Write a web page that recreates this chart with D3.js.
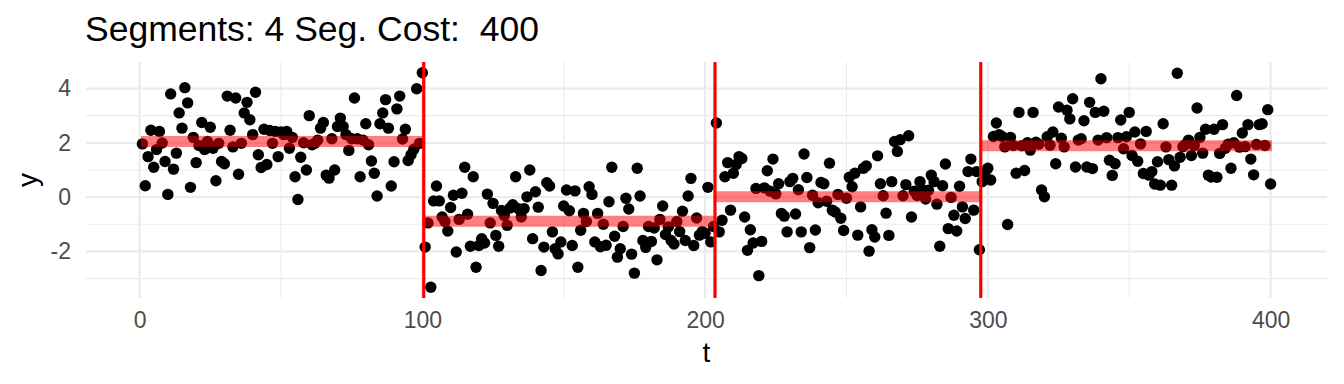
<!DOCTYPE html>
<html>
<head>
<meta charset="utf-8">
<script src="https://cdn.jsdelivr.net/npm/d3@7/dist/d3.min.js"></script>
<style>
  body { margin: 0; background: #fff; }
  text { font-family: "Liberation Sans", Arial, Helvetica, sans-serif; }
</style>
</head>
<body>
<svg id="chart" width="1344" height="384"></svg>
<script>
// DATA (y per time step t = 1..400, split by fitted segment)
const seg1Values = [
  1.96, 0.42, 1.49, 2.46, 1.1, 1.75, 2.42, 1.99, 1.31, 0.1,
  3.8, 1.03, 1.62, 3.1, 2.54, 4.03, 3.47, 0.36, 2.2, 1.27,
  1.9, 2.75, 1.75, 2.05, 2.57, 1.8, 0.6, 1.98, 1.31, 1.23,
  3.72, 2.46, 1.85, 3.65, 0.84, 1.98, 3.1, 3.49, 2.85, 2.3,
  3.86, 1.56, 1.09, 2.5, 1.2, 2.45, 1.98, 2.42, 1.49, 2.4,
  2.3, 2.42, 1.8, 2.2, 0.75, -0.09, 1.47, 2.0, 1.0, 3.0,
  1.93, 1.98, 2.1, 2.54, 2.75, 0.81, 0.7, 2.15, 1.0, 2.6,
  2.91, 2.6, 2.3, 1.72, 2.15, 3.65, 2.15, 0.75, 2.1, 2.7,
  1.93, 1.33, 0.88, 0.04, 2.7, 3.1, 3.59, 2.54, 0.41, 1.3,
  3.25, 3.72, 2.14, 2.5, 1.35, 1.56, 1.76, 3.99, 1.98, 4.58,
];
const seg2Values = [
  -1.84, -0.95, -3.32, -0.14, 0.41, -0.14, -0.73, -0.9, -1.25, -0.38,
  0.07, -2.02, -0.82, 0.14, 1.1, -0.63, -1.81, 0.75, -2.58, -1.78,
  -1.53, -1.69, 0.11, -0.95, -0.23, -1.41, -1.81, -0.49, -0.68, -1.04,
  -0.4, -0.28, 0.75, -0.43, -0.73, -0.43, 0.01, 1.0, -1.53, 0.2,
  -0.37, -2.7, -1.84, 0.53, 0.41, -1.28, -1.9, -2.09, -1.65, -0.33,
  0.26, -0.5, -1.78, 0.23, -2.58, -1.22, -0.6, -0.9, 0.38, 0.1,
  -1.65, -0.6, -1.83, -1.0, -1.77, -0.17, 1.1, -1.44, -2.21, -1.9,
  -1.08, -0.04, -0.44, -2.1, -2.8, 1.06, 0.04, -1.6, -1.85, -1.08,
  -1.63, -1.14, -2.31, -0.82, -0.33, -1.38, -1.1, -1.6, -1.73, -0.9,
  -1.27, -0.52, -1.6, 0.04, 0.69, -1.78, -0.77, -1.4, -1.27, -1.33,
  0.36, -1.65, -1.08,
];
const seg3Values = [
  2.73, -1.28, -0.85, 0.75, 1.27, -0.48, 0.88, 1.2, 1.49, 1.42,
  -0.73, -1.96, -1.2, -1.69, 0.32, -2.89, -1.63, 0.34, 0.97, 0.22,
  1.4, 0.12, 0.49, -0.6, -0.7, -1.28, 0.57, 0.69, -0.62, 0.27,
  -1.28, 1.59, 0.72, -1.86, 0.07, -1.21, -0.21, 0.54, 0.49, -0.15,
  1.25, -0.48, -0.55, 0.1, -0.78, -1.23, -0.04, 0.73, 0.38, 0.88,
  -1.4, -0.36, 1.06, 1.15, -1.99, -1.2, -1.47, 1.52, 0.49, 0.05,
  -0.59, -1.41, 0.57, 2.05, 1.68, 2.11, 0.05, 0.46, 2.26, -0.73,
  0.22, 0.06, 0.57, 0.26, -0.07, 0.25, 0.81, 0.57, -0.26, -1.81,
  0.42, 1.22, -1.16, -0.01, -0.67, -1.25, 0.4, -0.36, -0.79, 0.94,
  1.4, -0.48, 0.94, -1.94,
];
const seg4Values = [
  0.57, 0.93, 1.06, 0.63, 2.23, 2.73, 2.3, 2.23, 1.85, -1.01,
  2.2, 1.9, 0.88, 3.12, 1.89, 0.98, 2.0, 1.73, 3.12, 2.02,
  1.95, 0.26, 0.01, 2.22, 1.91, 2.4, 1.23, 3.32, 2.17, 1.85,
  3.2, 2.88, 3.62, 1.11, 2.1, 2.15, 2.81, 1.11, 3.49, 1.05,
  3.12, 2.1, 4.36, 3.16, 2.19, 1.36, 0.8, 1.23, 2.19, 2.84,
  1.78, 2.22, 3.12, 1.53, 2.4, 1.32, 1.96, 0.87, 2.42, 0.81,
  0.94, 0.48, 1.3, 0.44, 2.7, 1.85, 1.38, 0.44, 1.15, 4.56,
  1.47, 1.86, 1.95, 2.1, 1.53, 1.9, 3.28, 2.2, 1.62, 2.5,
  0.81, 0.74, 2.5, 0.73, 1.61, 2.67, 1.8, 1.95, 1.06, 2.0,
  3.74, 1.84, 2.36, 1.86, 2.67, 1.4, 0.82, 1.94, 2.67, 2.7,
  1.9, 3.22, 0.48,
];

// fitted segments: start / end in t, and level
const segStarts = [0.5, 100.5, 203.5, 297.5];
const segEnds = [100.5, 203.5, 297.5, 400.5];
const segMeans = [2.05, -0.89, 0.01, 1.89];
const changepoints = [100.5, 203.5, 297.5];

const xTicks = [0, 100, 200, 300, 400];
const xMinorTicks = [50, 150, 250, 350];
const yTicks = [-2, 0, 2, 4];
const yMinorTicks = [-3, -1, 1, 3];

const titleText = "Segments: 4 Seg. Cost:  400";

// CANVAS SETUP
const width = 1344,
  height = 384;
const margin = { top: 62, right: 17, bottom: 86, left: 86 };

const svg = d3.select("#chart");

const points = [...seg1Values, ...seg2Values, ...seg3Values, ...seg4Values].map(
  (y, i) => ({ t: i + 1, y: y })
);
const segments = segMeans.map((m, i) => ({
  start: segStarts[i],
  end: segEnds[i],
  mean: m,
}));

// ggplot-like 5% expansion
const expand = (ext) => {
  const pad = (ext[1] - ext[0]) * 0.05;
  return [ext[0] - pad, ext[1] + pad];
};

const xScale = d3
  .scaleLinear()
  .domain(expand(d3.extent(points, (d) => d.t)))
  .range([margin.left, width - margin.right]);

const yScale = d3
  .scaleLinear()
  .domain(expand(d3.extent(points, (d) => d.y)))
  .range([height - margin.bottom, margin.top]);

const [px0, px1] = xScale.range();
const [py1, py0] = yScale.range();

// GRID
const grid = svg.append("g").attr("class", "grid");

grid
  .append("g")
  .selectAll("line")
  .data(xMinorTicks)
  .join("line")
  .attr("x1", (d) => xScale(d))
  .attr("x2", (d) => xScale(d))
  .attr("y1", py0)
  .attr("y2", py1)
  .attr("stroke", "#EBEBEB")
  .attr("stroke-width", 1.1);

grid
  .append("g")
  .selectAll("line")
  .data(yMinorTicks)
  .join("line")
  .attr("x1", px0)
  .attr("x2", px1)
  .attr("y1", (d) => yScale(d))
  .attr("y2", (d) => yScale(d))
  .attr("stroke", "#EBEBEB")
  .attr("stroke-width", 1.1);

grid
  .append("g")
  .selectAll("line")
  .data(xTicks)
  .join("line")
  .attr("x1", (d) => xScale(d))
  .attr("x2", (d) => xScale(d))
  .attr("y1", py0)
  .attr("y2", py1)
  .attr("stroke", "#EBEBEB")
  .attr("stroke-width", 2.2);

grid
  .append("g")
  .selectAll("line")
  .data(yTicks)
  .join("line")
  .attr("x1", px0)
  .attr("x2", px1)
  .attr("y1", (d) => yScale(d))
  .attr("y2", (d) => yScale(d))
  .attr("stroke", "#EBEBEB")
  .attr("stroke-width", 2.2);

// POINTS
svg
  .append("g")
  .selectAll("circle")
  .data(points)
  .join("circle")
  .attr("cx", (d) => xScale(d.t))
  .attr("cy", (d) => yScale(d.y))
  .attr("r", 5.7)
  .attr("fill", "#000");

// SEGMENT MEANS
svg
  .append("g")
  .selectAll("line")
  .data(segments)
  .join("line")
  .attr("x1", (d) => xScale(d.start))
  .attr("x2", (d) => xScale(d.end))
  .attr("y1", (d) => yScale(d.mean))
  .attr("y2", (d) => yScale(d.mean))
  .attr("stroke", "red")
  .attr("stroke-opacity", 0.5)
  .attr("stroke-width", 11);

// CHANGEPOINTS
svg
  .append("g")
  .selectAll("line")
  .data(changepoints)
  .join("line")
  .attr("x1", (d) => xScale(d))
  .attr("x2", (d) => xScale(d))
  .attr("y1", py0)
  .attr("y2", py1)
  .attr("stroke", "red")
  .attr("stroke-width", 3.2);

// AXES
const xl = svg
  .append("g")
  .attr("transform", `translate(0,${py1})`)
  .call(
    d3
      .axisBottom(xScale)
      .tickValues(xTicks)
      .tickFormat((d) => String(d))
      .tickSize(0)
      .tickPadding(14)
  );

const yl = svg
  .append("g")
  .attr("transform", `translate(${px0},0)`)
  .call(
    d3
      .axisLeft(yScale)
      .tickValues(yTicks)
      .tickFormat((d) => String(d))
      .tickSize(0)
      .tickPadding(15)
  );

[xl, yl].forEach(function (g) {
  g.select(".domain").remove();
  g.selectAll("text")
    .attr("fill", "#4D4D4D")
    .style("font-size", "23px")
    .style("font-family", '"Liberation Sans", Arial, sans-serif');
});

// LABELS
svg
  .append("text")
  .attr("x", (px0 + px1) / 2)
  .attr("y", 362)
  .attr("text-anchor", "middle")
  .style("font-size", "28px")
  .attr("fill", "#000")
  .text("t");

svg
  .append("text")
  .attr("transform", `translate(37,${(py0 + py1) / 2}) rotate(-90)`)
  .attr("text-anchor", "middle")
  .style("font-size", "28px")
  .attr("fill", "#000")
  .text("y");

svg
  .append("text")
  .attr("x", 85)
  .attr("y", 40.7)
  .style("font-size", "35.5px")
  .style("white-space", "pre")
  .attr("fill", "#000")
  .text(titleText);
</script>
</body>
</html>
